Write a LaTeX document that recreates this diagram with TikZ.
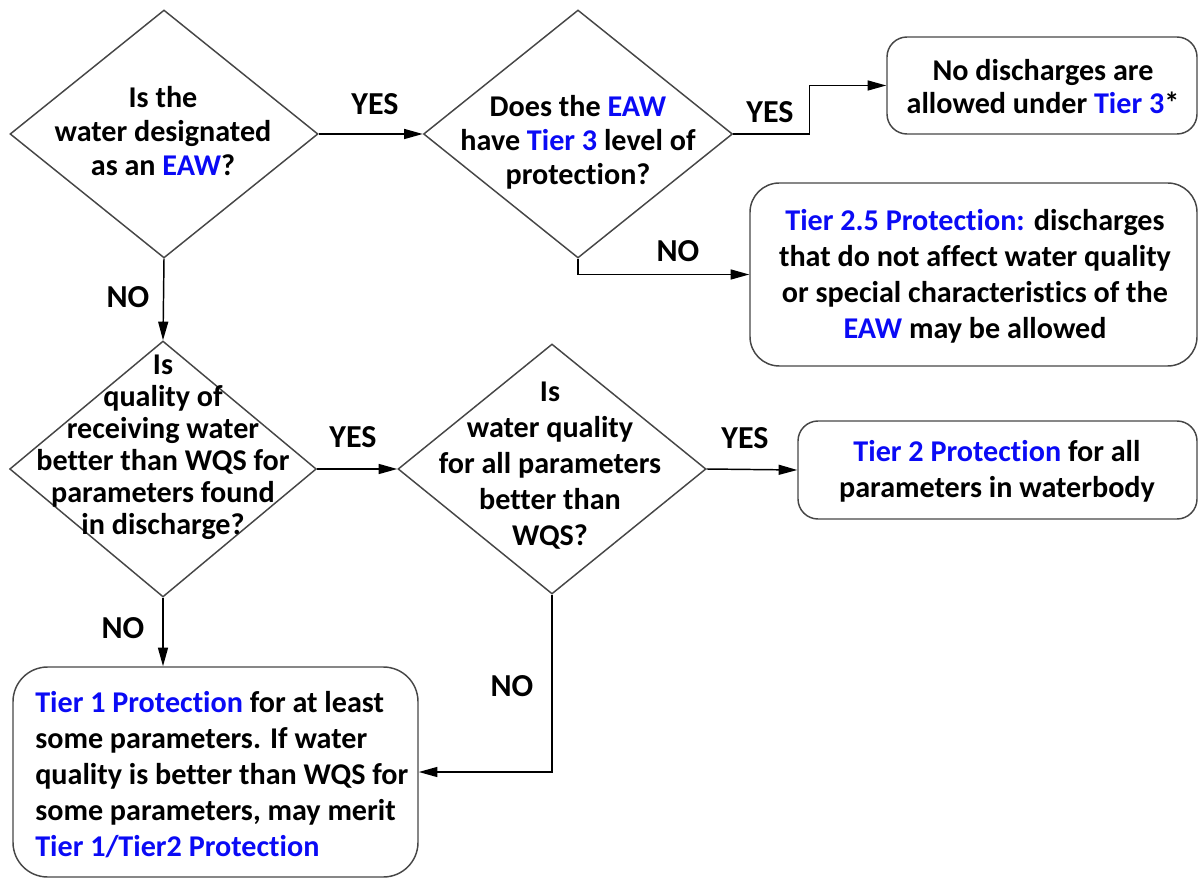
\documentclass[tikz,border=0pt]{standalone}
\usepackage{fontspec}
\setmainfont{Carlito}[Ligatures={NoCommon,NoRare}]
\usetikzlibrary{shapes.geometric,arrows.meta}
\definecolor{tblue}{RGB}{10,10,245}
\definecolor{edgec}{RGB}{70,70,70}
\newcommand{\hl}[1]{\textcolor{tblue}{#1}}
\begin{document}
\begin{tikzpicture}[x=0.75pt,y=-0.75pt,
 dec/.style={draw=edgec, line width=1.1pt, diamond, inner sep=0pt},
 box/.style={draw=edgec, line width=1.1pt, rounded corners=15pt, inner sep=0pt, rectangle},
 txt/.style={align=center, font=\bfseries\fontsize{22.6}{25.5}\selectfont, inner sep=0pt},
 lbl/.style={font=\bfseries\fontsize{24}{26}\selectfont, inner sep=0pt},
 conn/.style={line width=1.1pt, -{Triangle[length=14pt,width=7.5pt]}}]
\useasboundingbox (0,0) rectangle (1199,880);
% shapes
\node[dec, minimum width=231pt, minimum height=186pt] (d1) at (164,134) {};
\node[dec, minimum width=231.75pt, minimum height=186pt] (d2) at (578,134) {};
\node[dec, minimum width=230pt, minimum height=192pt] (d3) at (163,469) {};
\node[dec, minimum width=231pt, minimum height=187.5pt] (d4) at (552,469) {};
\node[box, minimum width=232.5pt, minimum height=72.75pt] (b3) at (1042,85.5) {};
\node[box, rounded corners=22pt, minimum width=335.25pt, minimum height=137.25pt] (b25) at (973.5,274.5) {};
\node[box, minimum width=299.25pt, minimum height=73.5pt] (b2) at (997.5,470) {};
\node[box, rounded corners=26pt, minimum width=303.75pt, minimum height=157.5pt] (b1) at (215.5,772) {};
% texts
\node[txt] (t1) at (163,131) {Is the\\water designated\\as an \hl{EAW}?};
\node[txt] (t2) at (578,142) {Does the \hl{EAW}\\have \hl{Tier 3} level of\\protection?};
\node[txt, font=\bfseries\fontsize{22.6}{24.75}\selectfont] (t3) at (1043,87) {No discharges are\\allowed under \hl{Tier 3}*};
\node[txt, font=\bfseries\fontsize{22.6}{27}\selectfont] (t25) at (975,276) {\hl{Tier 2.5 Protection:} discharges\\that do not affect water quality\\or special characteristics of the\\\hl{EAW} may be allowed};
\node[txt, font=\bfseries\fontsize{22.6}{24}\selectfont] (t4) at (163,447) {Is\\quality of\\receiving water\\better than WQS for\\parameters found\\in discharge?};
\node[txt, font=\bfseries\fontsize{22.6}{27}\selectfont] (t5) at (550,466) {Is\\water quality\\for all parameters\\better than\\WQS?};
\node[txt, font=\bfseries\fontsize{22.6}{27}\selectfont] (t6) at (997,471) {\hl{Tier 2 Protection} for all\\parameters in waterbody};
\node[txt, align=left, anchor=west, font=\bfseries\fontsize{22.6}{27}\selectfont] (t7) at (35,775) {\hl{Tier 1 Protection} for at least\\some parameters. If water\\quality is better than WQS for\\some parameters, may merit\\\hl{Tier 1/Tier2 Protection}};
% connectors
\draw[conn] (d1.east) -- (d2.west);
\draw[conn] (d2.east) -- ++(76,0) |- (b3.west);
\draw[conn] (d2.south) |- (b25.west);
\draw[conn] (d1.south) -- (d3.north);
\draw[conn] (d3.east) -- (d4.west);
\draw[conn] (d4.east) -- (b2.west);
\draw[conn] (d3.south) -- (d3.south |- b1.north);
\draw[conn] (d4.south) |- (b1.east);
% labels
\node[lbl] (y1) at (375,104) {YES};
\node[lbl] (y2) at (770,112) {YES};
\node[lbl] (n1) at (678,251) {NO};
\node[lbl] (n2) at (128,297) {NO};
\node[lbl] (y3) at (353,437) {YES};
\node[lbl] (y4) at (745,438) {YES};
\node[lbl] (n3) at (123,628) {NO};
\node[lbl] (n4) at (512,686) {NO};
\end{tikzpicture}
\end{document}
